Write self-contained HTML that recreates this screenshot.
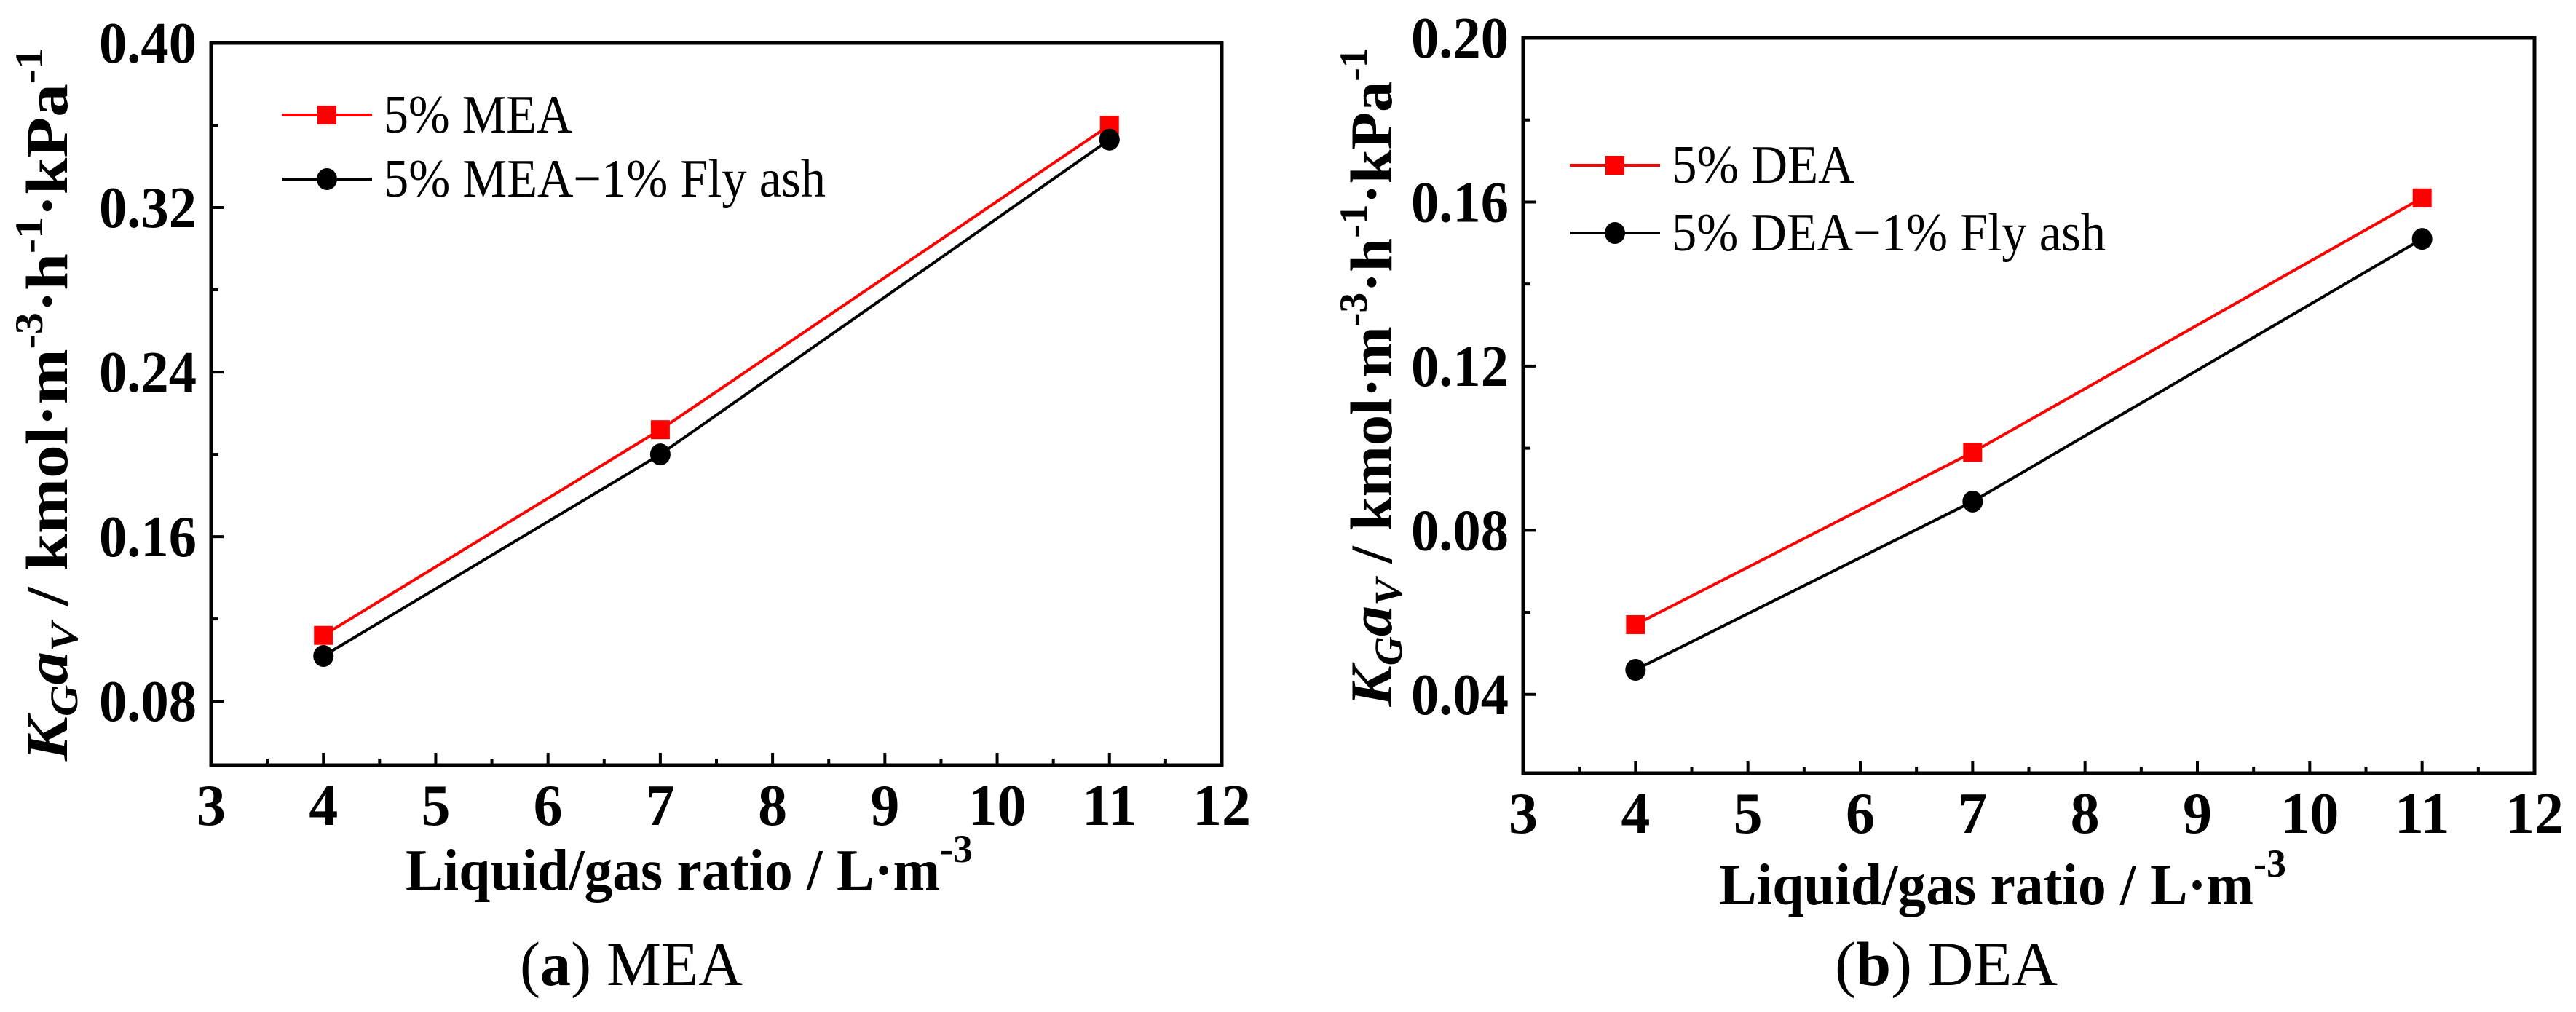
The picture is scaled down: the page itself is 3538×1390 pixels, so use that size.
<!DOCTYPE html>
<html><head><meta charset="utf-8"><style>
html,body{margin:0;padding:0;background:#fff;}
svg{display:block;}
text{font-family:"Liberation Serif",serif;}
</style></head><body>
<svg id="c" width="3538" height="1390" viewBox="0 0 3538 1390" xmlns="http://www.w3.org/2000/svg"></svg>
<script>
const xTicks=[3,4,5,6,7,8,9,10,11,12];
const xData=[4,7,11];
const meaPure=[0.112,0.212,0.360];
const meaAsh=[0.102,0.200,0.353];
const deaPure=[0.057,0.099,0.161];
const deaAsh=[0.046,0.087,0.151];
const meaYTicks=[0.08,0.16,0.24,0.32,0.40];
const deaYTicks=[0.04,0.08,0.12,0.16,0.20];
const meaLegend=["5% MEA","5% MEA\u22121% Fly ash"];
const deaLegend=["5% DEA","5% DEA\u22121% Fly ash"];

const NS="http://www.w3.org/2000/svg";
const svg=document.getElementById('c');
function mk(tag,attrs,parent,txt){const e=document.createElementNS(NS,tag);for(const k in attrs)e.setAttribute(k,attrs[k]);if(txt!==undefined)e.textContent=txt;(parent||svg).appendChild(e);return e;}

function panel(cfg){
  const g=mk('g',{});
  
  
  const L=cfg.L,R=cfg.R,T=cfg.T,B=cfg.B;
  const sx=v=>L+(v-3)/9*(R-L);
  const sy=v=>B-(v-cfg.ymin)/(cfg.ymax-cfg.ymin)*(B-T);
  const fr=mk('rect',{x:L,y:T,width:R-L,height:B-T,fill:'none',stroke:'#000','stroke-width':5},g);
  
  
  xTicks.forEach((v,i)=>{
    const x=sx(v);
    mk('line',{x1:x,x2:x,y1:B,y2:B-17,stroke:'#000','stroke-width':4},g);
    if(i<xTicks.length-1){const xm=sx(v+0.5);mk('line',{x1:xm,x2:xm,y1:B,y2:B-9,stroke:'#000','stroke-width':4},g);}
    const t=mk('text',{x:x,y:B+82,'text-anchor':'middle','font-size':80,'font-weight':'bold'},g,String(v));
    
    
  });
  const step=cfg.yTicks[1]-cfg.yTicks[0];
  cfg.yTicks.forEach(v=>{
    const y=sy(v);
    mk('line',{x1:L,x2:L+17,y1:y,y2:y,stroke:'#000','stroke-width':4},g);
    const ym=sy(v-step/2);
    if(ym<=B)mk('line',{x1:L,x2:L+10,y1:ym,y2:ym,stroke:'#000','stroke-width':4},g);
    const t=mk('text',{x:L-20,y:y+27,'text-anchor':'end','font-size':80,'font-weight':'bold',textLength:134,lengthAdjust:'spacingAndGlyphs'},g,v.toFixed(2));
    
    
  });
  const series=[{d:cfg.s1,c:'#ff0000',m:'sq'},{d:cfg.s2,c:'#000',m:'ci'}];
  series.forEach((s,si)=>{
    const pts=xData.map((x,i)=>sx(x)+','+sy(s.d[i])).join(' ');
    const pl=mk('polyline',{points:pts,fill:'none',stroke:s.c,'stroke-width':4},g);
    
    
    xData.forEach((x,i)=>{
      let e;
      if(s.m==='sq')e=mk('rect',{x:sx(x)-13,y:sy(s.d[i])-13,width:26,height:26,fill:s.c},g);
      else e=mk('ellipse',{cx:sx(x),cy:sy(s.d[i]),rx:14,ry:15,fill:s.c},g);
      
      
    });
    const ly=cfg.legY[si];
    const lg=mk('g',{},g);
    
    
    mk('line',{x1:cfg.legX,x2:cfg.legX+124,y1:ly,y2:ly,stroke:s.c,'stroke-width':4},lg);
    if(s.m==='sq')mk('rect',{x:cfg.legX+49,y:ly-13,width:26,height:26,fill:s.c},lg);
    else mk('ellipse',{cx:cfg.legX+62,cy:ly,rx:14,ry:15,fill:s.c},lg);
    mk('text',{x:cfg.legX+140,y:ly+24,'font-size':74,textLength:cfg.legW[si],lengthAdjust:'spacingAndGlyphs'},lg,cfg.leg[si]);
  });
  const xt=mk('text',{x:cfg.xtX,y:cfg.xtY,'font-size':80,'font-weight':'bold'},g);
  
  
  xt.innerHTML='<tspan textLength="734" lengthAdjust="spacingAndGlyphs">Liquid/gas ratio / L·m</tspan><tspan dy="-38" font-size="54">-3</tspan>';
  const yt=mk('text',{x:0,y:0,'text-anchor':'middle','font-size':82,'font-weight':'bold',textLength:cfg.ytLen,lengthAdjust:'spacingAndGlyphs',transform:`translate(${cfg.ytX},${cfg.ytY}) rotate(-90)`},g);
  
  
  yt.innerHTML='<tspan font-style="italic">K</tspan><tspan font-style="italic" font-size="54" dy="14">G</tspan><tspan font-style="italic" dy="-14">a</tspan><tspan font-style="italic" font-size="54" dy="14">V</tspan><tspan dy="-14"> / kmol·m</tspan><tspan font-size="54" dy="-34">-3</tspan><tspan dy="34">·h</tspan><tspan font-size="54" dy="-34">-1</tspan><tspan dy="34">·kPa</tspan><tspan font-size="54" dy="-34">-1</tspan>';
  const cap=mk('text',{x:cfg.capX,y:1353,'font-size':86,textLength:306,lengthAdjust:'spacingAndGlyphs'},g);
  
  
  cap.innerHTML='(<tspan font-weight="bold">'+cfg.capL+'</tspan>) '+cfg.capT;
}
panel({name:'mea-chart',L:290,R:1678,T:59,B:1051,ymin:0.0489,ymax:0.40,yTicks:meaYTicks,s1:meaPure,s2:meaAsh,leg:meaLegend,legW:[259,607],legX:387,legY:[158,246],xtX:557,xtY:1222,ytX:92,ytY:555,ytLen:980,capX:714,capL:'a',capT:'MEA'});
panel({name:'dea-chart',L:2092,R:3481,T:52,B:1062,ymin:0.0208,ymax:0.20,yTicks:deaYTicks,s1:deaPure,s2:deaAsh,leg:deaLegend,legW:[251,596],legX:2156,legY:[227,320],xtX:2361,xtY:1242,ytX:1911,ytY:518,ytLen:905,capX:2520,capL:'b',capT:'DEA'});
</script>
</body></html>
